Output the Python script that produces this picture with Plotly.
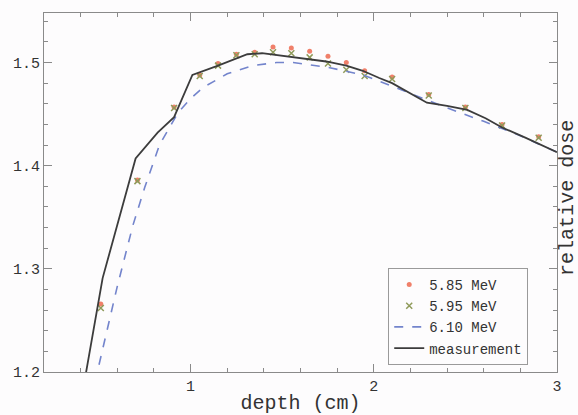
import plotly.graph_objects as go

# Depth-dose curves near the build-up region
depth_meas = [0.42, 0.52, 0.70, 0.82, 0.91, 1.01, 1.15, 1.31, 1.39, 1.53, 1.74,
              1.85, 1.94, 2.03, 2.10, 2.29, 2.40, 2.51, 2.61, 2.70, 2.83, 3.00]
dose_meas = [1.190, 1.291, 1.407, 1.432, 1.447, 1.488, 1.497, 1.508, 1.509, 1.506, 1.501,
             1.497, 1.492, 1.485, 1.480, 1.461, 1.458, 1.454, 1.446, 1.437, 1.427, 1.413]

depth_610 = [0.478, 0.60, 0.685, 0.75, 0.83, 0.93, 1.00, 1.07, 1.20, 1.34, 1.47, 1.56,
             1.76, 1.94, 2.00, 2.20, 2.40, 2.60, 2.80, 3.00]
dose_610 = [1.190, 1.283, 1.342, 1.379, 1.420, 1.451, 1.465, 1.476, 1.489, 1.497, 1.500, 1.500,
            1.495, 1.488, 1.484, 1.470, 1.456, 1.443, 1.429, 1.413]

depth_sim = [0.51, 0.71, 0.91, 1.05, 1.15, 1.25, 1.35, 1.45, 1.55, 1.65, 1.75,
             1.85, 1.95, 2.10, 2.30, 2.50, 2.70, 2.90]
dose_585 = [1.266, 1.386, 1.457, 1.488, 1.499, 1.508, 1.510, 1.515, 1.514, 1.511, 1.506,
            1.500, 1.492, 1.486, 1.469, 1.457, 1.440, 1.428]
dose_595 = [1.262, 1.385, 1.456, 1.487, 1.497, 1.507, 1.508, 1.510, 1.509, 1.505, 1.499,
            1.493, 1.487, 1.484, 1.468, 1.456, 1.439, 1.427]

FONT = "Liberation Mono, Courier New, monospace"
AXIS_COLOR = "#8a8a8a"
TEXT_COLOR = "#333333"

fig = go.Figure()
fig.add_trace(go.Scatter(
    x=depth_sim, y=dose_585, mode="markers", name="5.85 MeV",
    marker=dict(symbol="circle", size=5, color="#f0806a", line=dict(width=0)),
))
fig.add_trace(go.Scatter(
    x=depth_sim, y=dose_595, mode="markers", name="5.95 MeV",
    marker=dict(symbol="x-thin", size=6, color="#8f9a5a",
                line=dict(width=1.5, color="#8f9a5a")),
))
fig.add_trace(go.Scatter(
    x=depth_610, y=dose_610, mode="lines", name="6.10 MeV",
    line=dict(color="#7384cc", width=1.6, dash="dash"),
))
fig.add_trace(go.Scatter(
    x=depth_meas, y=dose_meas, mode="lines", name="measurement",
    line=dict(color="#3c3c3c", width=1.8),
))

axis_common = dict(
    showgrid=False, zeroline=False, showline=True, linecolor=AXIS_COLOR, linewidth=1,
    mirror="ticks", ticks="inside", ticklen=8, tickcolor=AXIS_COLOR, tickwidth=1,
    tickfont=dict(family=FONT, size=15, color=TEXT_COLOR), automargin=False,
)

fig.update_xaxes(
    range=[0.2, 3.0], tickvals=[1, 2, 3], ticktext=["1", "2", "3"],
    minor=dict(dtick=0.2, tick0=0.2, ticks="inside", ticklen=4, tickcolor=AXIS_COLOR),
    title=dict(text="depth (cm)", font=dict(family=FONT, size=20, color=TEXT_COLOR),
               standoff=8),
    ticklabelstandoff=0,
    **axis_common,
)
fig.update_yaxes(
    range=[1.2, 1.548], tickvals=[1.2, 1.3, 1.4, 1.5],
    ticktext=["1.2", "1.3", "1.4", "1.5"],
    minor=dict(dtick=0.02, tick0=1.2, ticks="inside", ticklen=4, tickcolor=AXIS_COLOR),
    **axis_common,
)

fig.add_annotation(
    text="relative dose", textangle=-90, xref="paper", yref="paper",
    x=1.0, y=0.485, xanchor="center", yanchor="middle", xshift=11, showarrow=False,
    borderpad=0, font=dict(family=FONT, size=20, color=TEXT_COLOR),
)

fig.update_layout(
    width=578, height=415,
    margin=dict(l=44, r=21, t=13, b=43),
    paper_bgcolor="#fdfcfd", plot_bgcolor="#fdfcfd",
    showlegend=True,
    legend=dict(
        x=0.671, y=0.29, xanchor="left", yanchor="top",
        bgcolor="#fdfcfd", bordercolor="#9a9a9a", borderwidth=1,
        font=dict(family=FONT, size=14, color=TEXT_COLOR),
        tracegroupgap=0, itemwidth=30,
    ),
)

fig.write_html("out.html")
